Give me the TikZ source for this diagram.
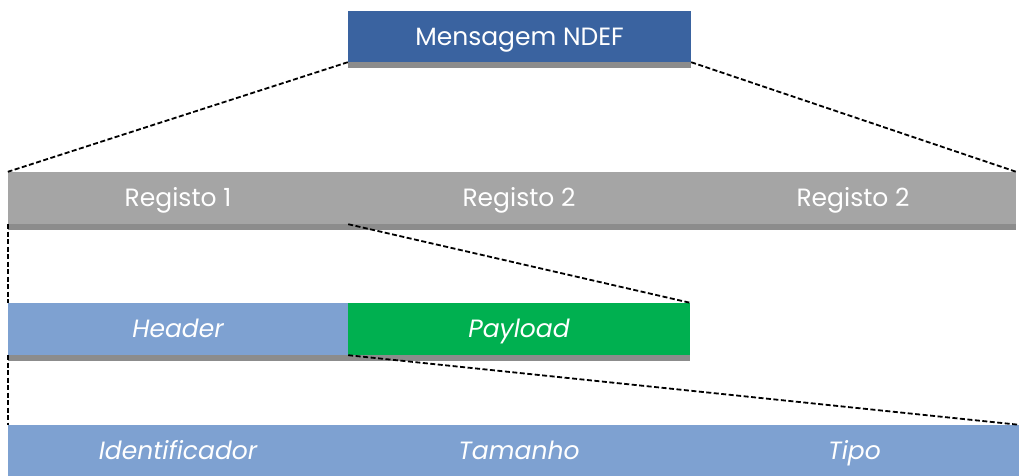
\documentclass[tikz,border=0pt]{standalone}
\usepackage{fontspec}
\setmainfont{Poppins}
\usepackage{xcolor}
\definecolor{ndefblue}{HTML}{3A63A0}
\definecolor{recgrey}{HTML}{A5A5A5}
\definecolor{stripgrey}{HTML}{8C8C8C}
\definecolor{fieldblue}{HTML}{7EA1D1}
\definecolor{payloadgreen}{HTML}{00B050}

\begin{document}
\begin{tikzpicture}[x=1pt, y=-1pt,
    block/.style={minimum height=52pt, inner sep=0pt, text=white,
        text height=17.5pt, text depth=0pt,
        font=\fontsize{25}{29}\selectfont},
    field/.style={block, font=\fontsize{25}{29}\selectfont\itshape},
    link/.style={dash pattern=on 5pt off 2.5pt, line width=1.8pt}]
    \useasboundingbox (0,0) rectangle (1019,475);

    % Message
    \node[block, fill=ndefblue, minimum width=343pt, minimum height=51pt] (msg) at (519.5,36.5) {Mensagem NDEF};

    % Records
    \node[block, fill=recgrey, minimum width=340pt] (reg1) at (178,198) {Registo 1};
    \node[block, fill=recgrey, minimum width=342pt] (reg2) at (519,198) {Registo 2};
    \node[block, fill=recgrey, minimum width=326pt] (reg3) at (853,198) {Registo 2};

    % Header and payload
    \node[field, fill=fieldblue, minimum width=340pt] (header) at (178,329) {Header};
    \node[field, fill=payloadgreen, minimum width=342pt] (payload) at (519,329) {Payload};

    % Header fields
    \node[field, fill=fieldblue, minimum width=340pt] (id) at (178,451) {Identificador};
    \node[field, fill=fieldblue, minimum width=342pt] (tam) at (519,451) {Tamanho};
    \node[field, fill=fieldblue, minimum width=329pt] (tipo) at (854.5,451) {Tipo};

    % Bottom strips
    \foreach \n in {msg,reg1,reg2,reg3,header,payload}
        \fill[stripgrey] (\n.south west) rectangle ([yshift=-6pt]\n.south east);

    % Zoom lines
    \draw[link] (msg.south west) -- (reg1.north west);
    \draw[link] (msg.south east) -- (reg3.north east);
    \draw[link] (reg1.south west) -- (header.north west);
    \draw[link] (reg1.south east) -- (payload.north east);
    \draw[link] (header.south west) -- (id.north west);
    \draw[link] (header.south east) -- (tipo.north east);
\end{tikzpicture}
\end{document}
